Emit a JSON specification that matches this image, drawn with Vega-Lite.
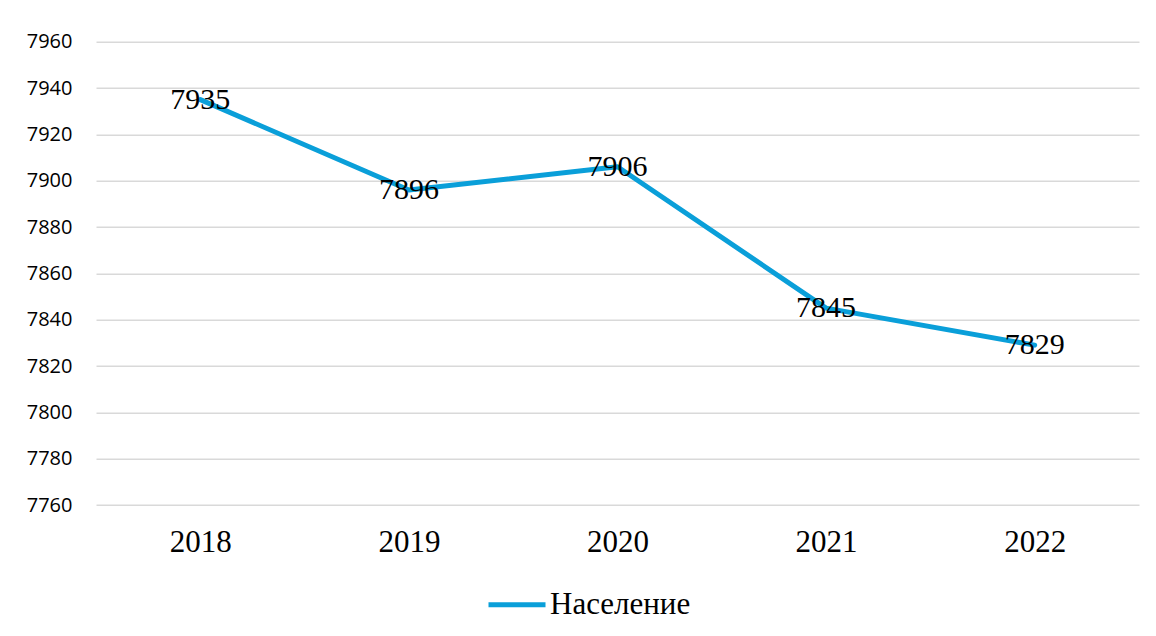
{
  "$schema": "https://vega.github.io/schema/vega-lite/v6.json",
  "autosize": "none",
  "width": 1043,
  "height": 463.3,
  "padding": {"left": 96, "top": 41.7, "right": 17, "bottom": 131},
  "background": "white",
  "config": {"view": {"stroke": null}},
  "data": {
    "values": [
      {"year": "2018", "value": 7935, "series": "Население"},
      {"year": "2019", "value": 7896, "series": "Население"},
      {"year": "2020", "value": 7906, "series": "Население"},
      {"year": "2021", "value": 7845, "series": "Население"},
      {"year": "2022", "value": 7829, "series": "Население"}
    ]
  },
  "encoding": {
    "x": {
      "field": "year", "type": "ordinal",
      "scale": {"type": "point", "padding": 0.5},
      "axis": {
        "title": null, "domain": false, "ticks": false, "grid": false,
        "labelAngle": 0, "labelFont": "Liberation Serif", "labelFontSize": 31,
        "labelColor": "#000000", "labelPadding": 22
      }
    },
    "y": {
      "field": "value", "type": "quantitative",
      "scale": {"domain": [7760, 7960], "zero": false, "nice": false},
      "axis": {
        "title": null, "domain": false, "ticks": false, "format": "d",
        "values": [7760, 7780, 7800, 7820, 7840, 7860, 7880, 7900, 7920, 7940, 7960],
        "gridColor": "#d9d9d9", "gridWidth": 1.5,
        "labelFont": "Open Sans", "labelFontSize": 20, "labelColor": "#000000",
        "labelPadding": 24
      }
    }
  },
  "layer": [
    {
      "mark": {"type": "line", "strokeWidth": 5, "strokeCap": "round", "strokeJoin": "round"},
      "encoding": {
        "color": {
          "field": "series", "type": "nominal",
          "scale": {"range": ["#0a9fd9"]},
          "legend": {
            "title": null, "orient": "none", "legendX": 390, "legendY": 532,
            "symbolType": "stroke", "symbolSize": 3249, "symbolStrokeWidth": 5,
            "labelFont": "Liberation Serif", "labelFontSize": 31, "labelColor": "#000000",
            "labelOffset": 2, "padding": 0
          }
        }
      }
    },
    {
      "mark": {"type": "text", "font": "Liberation Serif", "fontSize": 30, "align": "center", "baseline": "middle", "color": "#000000"},
      "encoding": {"text": {"field": "value", "type": "quantitative", "format": "d"}}
    }
  ]
}
